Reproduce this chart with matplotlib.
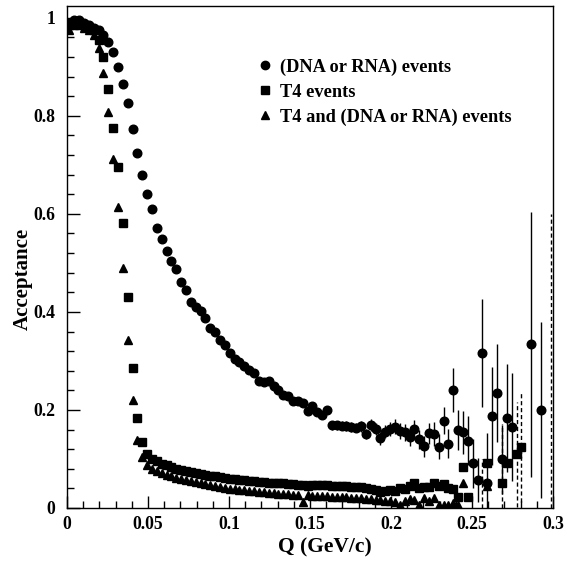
import numpy as np
import matplotlib
matplotlib.use("Agg")
import matplotlib.pyplot as plt
from matplotlib.lines import Line2D

nan = np.nan

# Q bins: 100 bins of 0.003 GeV/c between 0 and 0.3
q_edges = np.linspace(0.0, 0.3, 101)
q = 0.5 * (q_edges[:-1] + q_edges[1:])

# (DNA or RNA) events
dna = [0.99, 0.995, 0.995, 0.99, 0.985, 0.98, 0.975, 0.965, 0.95, 0.93,
       0.90, 0.864, 0.826, 0.773, 0.724, 0.68, 0.64, 0.61, 0.571, 0.548,
       0.524, 0.503, 0.487, 0.462, 0.445, 0.421, 0.411, 0.401, 0.387, 0.367,
       0.36, 0.343, 0.333, 0.317, 0.303, 0.297, 0.289, 0.282, 0.276, 0.26,
       0.256, 0.26, 0.249, 0.241, 0.231, 0.229, 0.219, 0.218, 0.215, 0.198,
       0.208, 0.195, 0.19, 0.2, 0.169, 0.169, 0.168, 0.167, 0.166, 0.164,
       0.167, 0.151, 0.169, 0.161, 0.142, 0.156, 0.161, 0.166, 0.157, 0.154,
       0.144, 0.161, 0.14, 0.126, 0.152, 0.151, 0.125, 0.178, 0.131, 0.241,
       0.159, 0.154, 0.137, 0.091, 0.057, 0.317, 0.052, 0.188, 0.235, 0.099,
       0.183, 0.166, nan, nan, nan, 0.334, nan, 0.2, nan, nan]
dna_err = [0.002, 0.002, 0.002, 0.002, 0.002, 0.002, 0.002, 0.002, 0.003, 0.003,
           0.003, 0.003, 0.003, 0.003, 0.003, 0.003, 0.003, 0.003, 0.003, 0.003,
           0.003, 0.003, 0.003, 0.003, 0.003, 0.004, 0.004, 0.004, 0.004, 0.004,
           0.004, 0.004, 0.004, 0.005, 0.005, 0.005, 0.005, 0.005, 0.005, 0.005,
           0.006, 0.006, 0.006, 0.006, 0.006, 0.007, 0.007, 0.007, 0.007, 0.007,
           0.008, 0.008, 0.008, 0.008, 0.009, 0.009, 0.009, 0.01, 0.01, 0.01,
           0.011, 0.011, 0.012, 0.012, 0.013, 0.014, 0.014, 0.015, 0.016, 0.017,
           0.018, 0.019, 0.02, 0.021, 0.022, 0.024, 0.025, 0.028, 0.03, 0.045,
           0.04, 0.043, 0.05, 0.05, 0.045, 0.11, 0.1, 0.1, 0.1, 0.07,
           0.11, 0.11, 0.0, 0.0, 0.0, 0.27, 0.0, 0.18, 0.0, 0.0]

# T4 events
t4 = [0.985, 0.99, 0.99, 0.985, 0.98, 0.975, 0.955, 0.919, 0.855, 0.775,
      0.696, 0.582, 0.43, 0.286, 0.184, 0.135, 0.11, 0.1, 0.095, 0.09,
      0.087, 0.084, 0.08, 0.078, 0.076, 0.074, 0.072, 0.07, 0.068, 0.066,
      0.065, 0.064, 0.062, 0.06, 0.059, 0.058, 0.057, 0.056, 0.055, 0.054,
      0.053, 0.052, 0.051, 0.05, 0.05, 0.049, 0.048, 0.047, 0.046, 0.045,
      0.046, 0.047, 0.046, 0.046, 0.045, 0.045, 0.044, 0.044, 0.043, 0.042,
      0.042, 0.04, 0.038, 0.037, 0.033, 0.035, 0.036, 0.035, 0.04, 0.038,
      0.045, 0.052, 0.04, 0.043, 0.042, 0.052, 0.045, 0.048, 0.04, 0.038,
      0.023, 0.084, 0.022, nan, nan, nan, 0.091, nan, nan, 0.052,
      0.091, nan, 0.11, 0.125, nan, nan, nan, nan, nan, nan]

# T4 and (DNA or RNA) events
both = [0.975, 0.985, 0.985, 0.98, 0.975, 0.964, 0.938, 0.887, 0.807, 0.712,
        0.614, 0.49, 0.343, 0.22, 0.139, 0.105, 0.088, 0.08, 0.075, 0.072,
        0.068, 0.065, 0.062, 0.06, 0.058, 0.055, 0.053, 0.051, 0.049, 0.047,
        0.045, 0.043, 0.041, 0.039, 0.038, 0.037, 0.036, 0.035, 0.034, 0.033,
        0.032, 0.031, 0.03, 0.029, 0.028, 0.028, 0.027, 0.026, 0.013, 0.026,
        0.025, 0.025, 0.024, 0.024, 0.023, 0.023, 0.022, 0.022, 0.021, 0.021,
        0.02, 0.019, 0.018, 0.017, 0.016, 0.015, 0.014, 0.012, 0.006, 0.015,
        0.018, 0.016, 0.006, 0.02, 0.015, 0.02, 0.006, 0.006, 0.006, 0.01,
        0.006, 0.052, nan, nan, nan, nan, 0.045, nan, nan, nan,
        nan, nan, nan, nan, nan, nan, nan, nan, nan, nan]

# dashed error bars of the T4 samples at high Q (bin index, low, high)
dash_bin = [85, 89, 92, 93, 99]
dash_lo = [0.0, 0.0, 0.003, 0.013, 0.0]
dash_hi = [0.1, 0.172, 0.217, 0.237, 0.6]

plt.rcParams['font.family'] = ['Liberation Serif', 'DejaVu Serif']
plt.rcParams['font.weight'] = 'bold'

fig = plt.figure(figsize=(5.70, 5.62), dpi=100)
ax = fig.add_axes([0.1175, 0.0961, 0.8526, 0.8932])

ax.vlines(q[dash_bin], dash_lo, dash_hi, colors='black', linestyles=(0, (3, 2)), linewidth=1)
ax.errorbar(q, dna, yerr=dna_err, fmt='o', color='black', ms=6.2, elinewidth=1, capsize=0)
ax.plot(q, t4, 's', color='black', ms=5.6)
ax.plot(q, both, '^', color='black', ms=6.2)

ax.set_xlim(0, 0.3)
ax.set_ylim(0, 1.024)
ax.set_xticks([0, 0.05, 0.1, 0.15, 0.2, 0.25, 0.3])
ax.set_xticklabels(['0', '0.05', '0.1', '0.15', '0.2', '0.25', '0.3'])
ax.set_xticks(np.arange(0, 0.3001, 0.01), minor=True)
ax.set_yticks([0, 0.2, 0.4, 0.6, 0.8, 1.0])
ax.set_yticklabels(['0', '0.2', '0.4', '0.6', '0.8', '1'])
ax.set_yticks(np.arange(0, 1.001, 0.04), minor=True)
ax.tick_params(which='both', direction='in', top=False, right=False, labelsize=12.7)
ax.tick_params(which='major', length=9, width=1)
ax.tick_params(which='minor', length=5, width=1)
ax.tick_params(axis='x', pad=6)
ax.tick_params(axis='y', pad=8.6)
for s in ax.spines.values():
    s.set_linewidth(1)

ax.set_xlabel('Q (GeV/c)', fontsize=15.5, fontweight='bold')
ax.set_ylabel('Acceptance', fontsize=15, fontweight='bold')
ax.xaxis.set_label_coords(0.531, -0.058)
ax.yaxis.set_label_coords(-0.071, 0.456)

handles = [Line2D([], [], ls='none', marker='o', color='black', ms=6),
           Line2D([], [], ls='none', marker='s', color='black', ms=5.5),
           Line2D([], [], ls='none', marker='^', color='black', ms=5.5)]
labels = ['(DNA or RNA) events', 'T4 events', 'T4 and (DNA or RNA) events']
ax.legend(handles, labels, loc='upper left', bbox_to_anchor=(0.38, 0.91),
          frameon=False, handlelength=0.7, handletextpad=0.45, labelspacing=0.42,
          prop={'size': 13.2, 'weight': 'bold'}, borderaxespad=0)

fig.savefig('out.png', dpi=100)
